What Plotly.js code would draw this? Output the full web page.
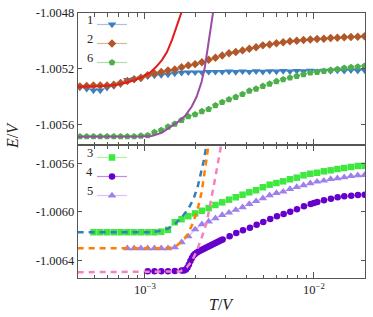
<!DOCTYPE html>
<html>
<head>
<meta charset="utf-8">
<script src="https://cdn.plot.ly/plotly-3.0.1.min.js"></script>
<style>html,body{margin:0;padding:0;background:#fff;}#chart{width:373px;height:317px;}</style>
</head>
<body>
<div id="chart"></div>
<script>
// ---------- data ----------
// temperature grid (T/V) shared by most measured series
const T = [4.124e-4, 4.523e-4, 4.960e-4, 5.440e-4, 5.966e-4, 6.543e-4, 7.176e-4, 7.870e-4, 8.631e-4, 9.466e-4,
  1.0381e-3, 1.1385e-3, 1.2486e-3, 1.3693e-3, 1.5017e-3, 1.6470e-3, 1.8062e-3, 1.9809e-3, 2.1725e-3, 2.3826e-3,
  2.6130e-3, 2.8657e-3, 3.1428e-3, 3.4467e-3, 3.7800e-3, 4.1455e-3, 4.5464e-3, 4.9861e-3, 5.4683e-3, 5.9971e-3,
  6.5770e-3, 7.2130e-3, 7.9105e-3, 8.6755e-3, 9.5145e-3, 1.04346e-2, 1.14437e-2, 1.25504e-2, 1.37640e-2, 1.50951e-2,
  1.65548e-2, 1.81557e-2, 1.99115e-2];

// top panel series
const E1 = [-1.005336, -1.005346, -1.005357, -1.005357, -1.005338, -1.005326, -1.005312, -1.005281, -1.005278, -1.005271,
  -1.005256, -1.005249, -1.005247, -1.005242, -1.005235, -1.005230, -1.005227, -1.005227, -1.005227, -1.005223,
  -1.005223, -1.005223, -1.005221, -1.005224, -1.005220, -1.005223, -1.005219, -1.005222, -1.005218, -1.005221,
  -1.005217, -1.005220, -1.005216, -1.005219, -1.005215, -1.005218, -1.005214, -1.005217, -1.005213, -1.005216,
  -1.005212, -1.005215, -1.005212];
const E2 = [-1.005328, -1.005326, -1.005321, -1.005321, -1.005321, -1.005317, -1.005304, -1.005290, -1.005276, -1.005266,
  -1.005247, -1.005235, -1.005225, -1.005213, -1.005206, -1.005191, -1.005177, -1.005168, -1.005155, -1.005137,
  -1.005122, -1.005106, -1.005090, -1.005081, -1.005069, -1.005057, -1.005047, -1.005033, -1.005026, -1.005018,
  -1.005011, -1.005004, -1.005000, -1.004995, -1.004990, -1.004987, -1.004985, -1.004980, -1.004978, -1.004975,
  -1.004973, -1.004971, -1.004968];
const E6 = [-1.005689, -1.005689, -1.005689, -1.005689, -1.005689, -1.005689, -1.005689, -1.005689, -1.005689, -1.005684,
  -1.005681, -1.005658, -1.005643, -1.005619, -1.005598, -1.005571, -1.005544, -1.005530, -1.005508, -1.005492,
  -1.005465, -1.005442, -1.005422, -1.005405, -1.005384, -1.005360, -1.005346, -1.005326, -1.005310, -1.005292,
  -1.005278, -1.005266, -1.005254, -1.005242, -1.005230, -1.005225, -1.005218, -1.005211, -1.005204, -1.005196,
  -1.005191, -1.005187, -1.005182];

// top panel fitted curves
const Tred = [4.0e-4, 5.415e-4, 6.645e-4, 7.614e-4, 8.725e-4, 9.598e-4, 1.0705e-3, 1.1620e-3, 1.2608e-3, 1.3497e-3, 1.4446e-3, 1.5258e-3, 1.6109e-3, 1.6783e-3];
const Ered = [-1.005331, -1.005328, -1.005319, -1.005304, -1.005283, -1.005261, -1.005229, -1.005189, -1.005139, -1.005081, -1.004995, -1.004915, -1.004829, -1.004764];
const Tpur = [4.0e-4, 7.112e-4, 9.342e-4, 1.0953e-3, 1.2557e-3, 1.4387e-3, 1.5740e-3, 1.7245e-3, 1.8891e-3, 2.0221e-3, 2.1645e-3, 2.2646e-3, 2.3690e-3, 2.4814e-3, 2.5427e-3];
const Epur = [-1.005691, -1.005691, -1.005689, -1.005685, -1.005663, -1.005614, -1.005582, -1.005542, -1.005475, -1.005403, -1.005295, -1.005187, -1.005043, -1.004874, -1.004778];

// bottom panel series
const E3 = [null, null, -1.006168, -1.006168, -1.006168, -1.006168, -1.006168, -1.006168, -1.006168, -1.006168,
  -1.006168, -1.006168, -1.006163, -1.006148, -1.006085, -1.006060, -1.006035, -1.006012, -1.005990, -1.005968,
  -1.005942, -1.005920, -1.005898, -1.005878, -1.005857, -1.005837, -1.005820, -1.005795, -1.005774, -1.005760,
  -1.005746, -1.005729, -1.005716, -1.005696, -1.005683, -1.005675, -1.005663, -1.005655, -1.005644, -1.005636,
  -1.005627, -1.005619, -1.005617];
const E5 = [null, null, null, null, null, null, null, -1.006301, -1.006301, -1.006301,
  -1.006301, -1.006301, -1.006301, -1.006301, -1.006294, -1.006251, -1.006203, -1.006145, -1.006102, -1.006079,
  -1.006052, -1.006025, -1.006006, -1.005983, -1.005961, -1.005934, -1.005911, -1.005887, -1.005862, -1.005843,
  -1.005832, -1.005810, -1.005793, -1.005779, -1.005762, -1.005749, -1.005741, -1.005727, -1.005721, -1.005713,
  -1.005702, -1.005696, -1.005694];
const T4 = [1.0389e-3, 1.1396e-3, 1.2500e-3, 1.3697e-3, 1.5029e-3, 1.6488e-3, 1.7013e-3, 1.7483e-3, 1.7844e-3, 1.8212e-3,
  1.8588e-3, 1.8972e-3, 1.9364e-3, 1.9764e-3, 2.0310e-3, 2.0871e-3, 2.1447e-3, 2.2040e-3, 2.2649e-3, 2.3274e-3,
  2.3917e-3, 2.4578e-3, 2.5257e-3, 2.5955e-3, 2.6672e-3, 2.7409e-3, 2.8166e-3, 2.8826e-3, 3.1709e-3, 3.4694e-3,
  3.8007e-3, 4.1808e-3, 4.5807e-3, 5.0119e-3, 5.5112e-3, 6.0408e-3, 6.6161e-3, 7.2393e-3, 7.9327e-3, 8.7258e-3,
  9.5606e-3, 1.0e-2, 1.0460e-2, 1.1460e-2, 1.2607e-2, 1.3808e-2, 1.5111e-2, 1.6619e-2, 1.8212e-2, 1.9953e-2];
const E4 = [-1.006491, -1.006491, -1.006491, -1.006491, -1.006489, -1.006484, -1.006484, -1.006476, -1.006460, -1.006435,
  -1.006406, -1.006381, -1.006360, -1.006348, -1.006335, -1.006325, -1.006317, -1.006309, -1.006301, -1.006292,
  -1.006284, -1.006276, -1.006268, -1.006259, -1.006251, -1.006243, -1.006234, -1.006229, -1.006201, -1.006174,
  -1.006152, -1.006130, -1.006105, -1.006083, -1.006058, -1.006036, -1.006017, -1.005998, -1.005978, -1.005953,
  -1.005934, -1.005925, -1.005917, -1.005903, -1.005890, -1.005878, -1.005870, -1.005865, -1.005859, -1.005857];

// bottom panel fitted (dashed) curves
const Tblue = [4.0e-4, 1.0705e-3, 1.1990e-3, 1.3737e-3, 1.5050e-3, 1.6488e-3, 1.8040e-3, 1.9311e-3, 2.0504e-3, 2.1447e-3, 2.2190e-3, 2.2865e-3, 2.372e-3];
const Eblue = [-1.006168, -1.006168, -1.006160, -1.006137, -1.006099, -1.006046, -1.005975, -1.005897, -1.005793, -1.005685, -1.005586, -1.005487, -1.005362];
const Torange = [4.0e-4, 1.3134e-3, 1.5050e-3, 1.6488e-3, 1.7967e-3, 1.9364e-3, 2.0588e-3, 2.1594e-3, 2.2341e-3, 2.2958e-3, 2.3593e-3, 2.4245e-3];
const Eorange = [-1.006301, -1.006301, -1.006290, -1.006248, -1.006182, -1.006083, -1.005967, -1.005843, -1.005710, -1.005594, -1.005478, -1.005362];
const Tpink = [4.0e-4, 1.4059e-3, 1.6109e-3, 1.7652e-3, 1.8972e-3, 2.0227e-3, 2.1447e-3, 2.3178e-3, 2.4245e-3, 2.5257e-3, 2.6308e-3, 2.7219e-3, 2.8166e-3, 2.8945e-3];
const Epink = [-1.006499, -1.006499, -1.006493, -1.006460, -1.006406, -1.006323, -1.006232, -1.006091, -1.005959, -1.005818, -1.005685, -1.005561, -1.005445, -1.005362];

// ticks and labels
const xMajorTicks = [1e-3, 1e-2];
const xMajorText = ['10<sup>\u22123</sup>', '10<sup>\u22122</sup>'];
const xMinorTicks = [5e-4, 6e-4, 7e-4, 8e-4, 9e-4, 2e-3, 3e-3, 4e-3, 5e-3, 6e-3, 7e-3, 8e-3, 9e-3];
const yTopTicks = [-1.0056, -1.0052, -1.0048];
const yTopText = ['-1.0056', '-1.0052', '-1.0048'];
const yBotTicks = [-1.0064, -1.0060, -1.0056];
const yBotText = ['-1.0064', '-1.0060', '-1.0056'];
const legendTop = ['1', '2', '6'];
const legendBot = ['3', '4', '5'];

// ---------- drawing ----------
const FONT = 'Liberation Serif, Times New Roman, serif';
const AX = '#555';

function markers(x, y, color, faint, symbol, size, xa, ya, legend) {
  return {x: x, y: y, type: 'scatter', mode: 'lines+markers', xaxis: xa, yaxis: ya, name: ' ',
    legend: legend, showlegend: true,
    line: {color: faint, width: 1.2}, marker: {color: color, symbol: symbol, size: size}};
}
function curve(x, y, color, dash, width, xa, ya) {
  return {x: x, y: y, type: 'scatter', mode: 'lines', xaxis: xa, yaxis: ya, showlegend: false,
    line: {color: color, width: width, dash: dash}};
}

const traces = [
  markers(T, E1, '#3a7fc1', 'rgba(58,127,193,0.45)', 'triangle-down', 7.5, 'x2', 'y2', 'legend'),
  markers(T, E2, '#b0582a', 'rgba(176,88,42,0.45)', 'diamond', 6.5, 'x2', 'y2', 'legend'),
  markers(T, E6, '#4daf4a', 'rgba(77,175,74,0.45)', 'pentagon', 7, 'x2', 'y2', 'legend'),
  curve(Tred, Ered, '#e41a1c', 'solid', 2, 'x2', 'y2'),
  curve(Tpur, Epur, '#984ea3', 'solid', 2, 'x2', 'y2'),
  markers(T, E3, '#3ee83e', 'rgba(62,232,62,0.45)', 'square', 6.5, 'x', 'y', 'legend2'),
  markers(T4, E4, '#6600cc', 'rgba(102,0,204,0.45)', 'circle', 6.5, 'x', 'y', 'legend2'),
  markers(T, E5, '#9d7fee', 'rgba(157,127,238,0.45)', 'triangle-up', 7.5, 'x', 'y', 'legend2'),
  curve(Tblue, Eblue, '#377eb8', '6px,5px', 2.5, 'x', 'y'),
  curve(Torange, Eorange, '#ff7f00', '6px,5px', 2.5, 'x', 'y'),
  curve(Tpink, Epink, '#f781bf', '6px,5px', 2.5, 'x', 'y')
];

const xBase = {type: 'log', range: [-3.396, -1.698], ticks: 'inside', ticklen: 6, tickwidth: 1, tickcolor: AX,
  tickmode: 'array', tickvals: xMajorTicks, ticktext: xMajorText, mirror: 'allticks', showline: true,
  linecolor: AX, linewidth: 1.2, showgrid: false, zeroline: false,
  minor: {tickmode: 'array', tickvals: xMinorTicks, ticks: 'inside', ticklen: 3.5, tickcolor: AX, showgrid: false},
  tickfont: {family: FONT, size: 12.5, color: '#222'}};
const yBase = {ticks: 'inside', ticklen: 4, tickcolor: AX, tickmode: 'array', mirror: 'allticks', showline: true,
  linecolor: AX, linewidth: 1.2, showgrid: false, zeroline: false,
  tickfont: {family: FONT, size: 12.5, color: '#222'}};
const split = 133 / 265;

const P = (px) => (px - 78) / 287;
const Q = (py) => (278 - py) / 265;

const annotations = [];
legendTop.forEach((t, i) => annotations.push({text: t, xref: 'paper', yref: 'paper', x: P(89.5), y: Q(20 + 19 * i),
  showarrow: false, xanchor: 'center', yanchor: 'middle', font: {family: FONT, size: 12.5, color: '#222'}}));
legendBot.forEach((t, i) => annotations.push({text: t, xref: 'paper', yref: 'paper', x: P(89.5), y: Q(152.7 + 19 * i),
  showarrow: false, xanchor: 'center', yanchor: 'middle', font: {family: FONT, size: 12.5, color: '#222'}}));
annotations.push({text: '<i>E</i>/<i>V</i>', xref: 'paper', yref: 'paper', x: P(12), y: Q(136), textangle: -90,
  showarrow: false, xanchor: 'center', yanchor: 'middle', font: {family: FONT, size: 16, color: '#222'}});
annotations.push({text: '<i>T</i>/<i>V</i>', xref: 'paper', yref: 'paper', x: P(221), y: Q(304),
  showarrow: false, xanchor: 'center', yanchor: 'middle', font: {family: FONT, size: 16, color: '#222'}});

const layout = {
  width: 373, height: 317,
  margin: {l: 78, r: 8, t: 13, b: 39, pad: 0},
  paper_bgcolor: '#fff', plot_bgcolor: '#fff',
  xaxis: Object.assign({}, xBase, {anchor: 'y', domain: [0, 1]}),
  xaxis2: Object.assign({}, xBase, {anchor: 'y2', domain: [0, 1], matches: 'x', showticklabels: false}),
  yaxis: Object.assign({}, yBase, {domain: [0, split], range: [-1.006547, -1.005445], tickvals: yBotTicks, ticktext: yBotText}),
  yaxis2: Object.assign({}, yBase, {domain: [split, 1], range: [-1.00575, -1.0048], tickvals: yTopTicks, ticktext: yTopText}),
  showlegend: true,
  legend: {x: P(92), y: Q(10), xanchor: 'left', yanchor: 'top', bgcolor: 'rgba(0,0,0,0)', borderwidth: 0,
    font: {family: FONT, size: 11}, itemwidth: 30, tracegroupgap: 0},
  legend2: {x: P(92), y: Q(143), xanchor: 'left', yanchor: 'top', bgcolor: 'rgba(0,0,0,0)', borderwidth: 0,
    font: {family: FONT, size: 11}, itemwidth: 30, tracegroupgap: 0},
  annotations: annotations
};

Plotly.newPlot('chart', traces, layout, {staticPlot: true, displayModeBar: false});
</script>
</body>
</html>
